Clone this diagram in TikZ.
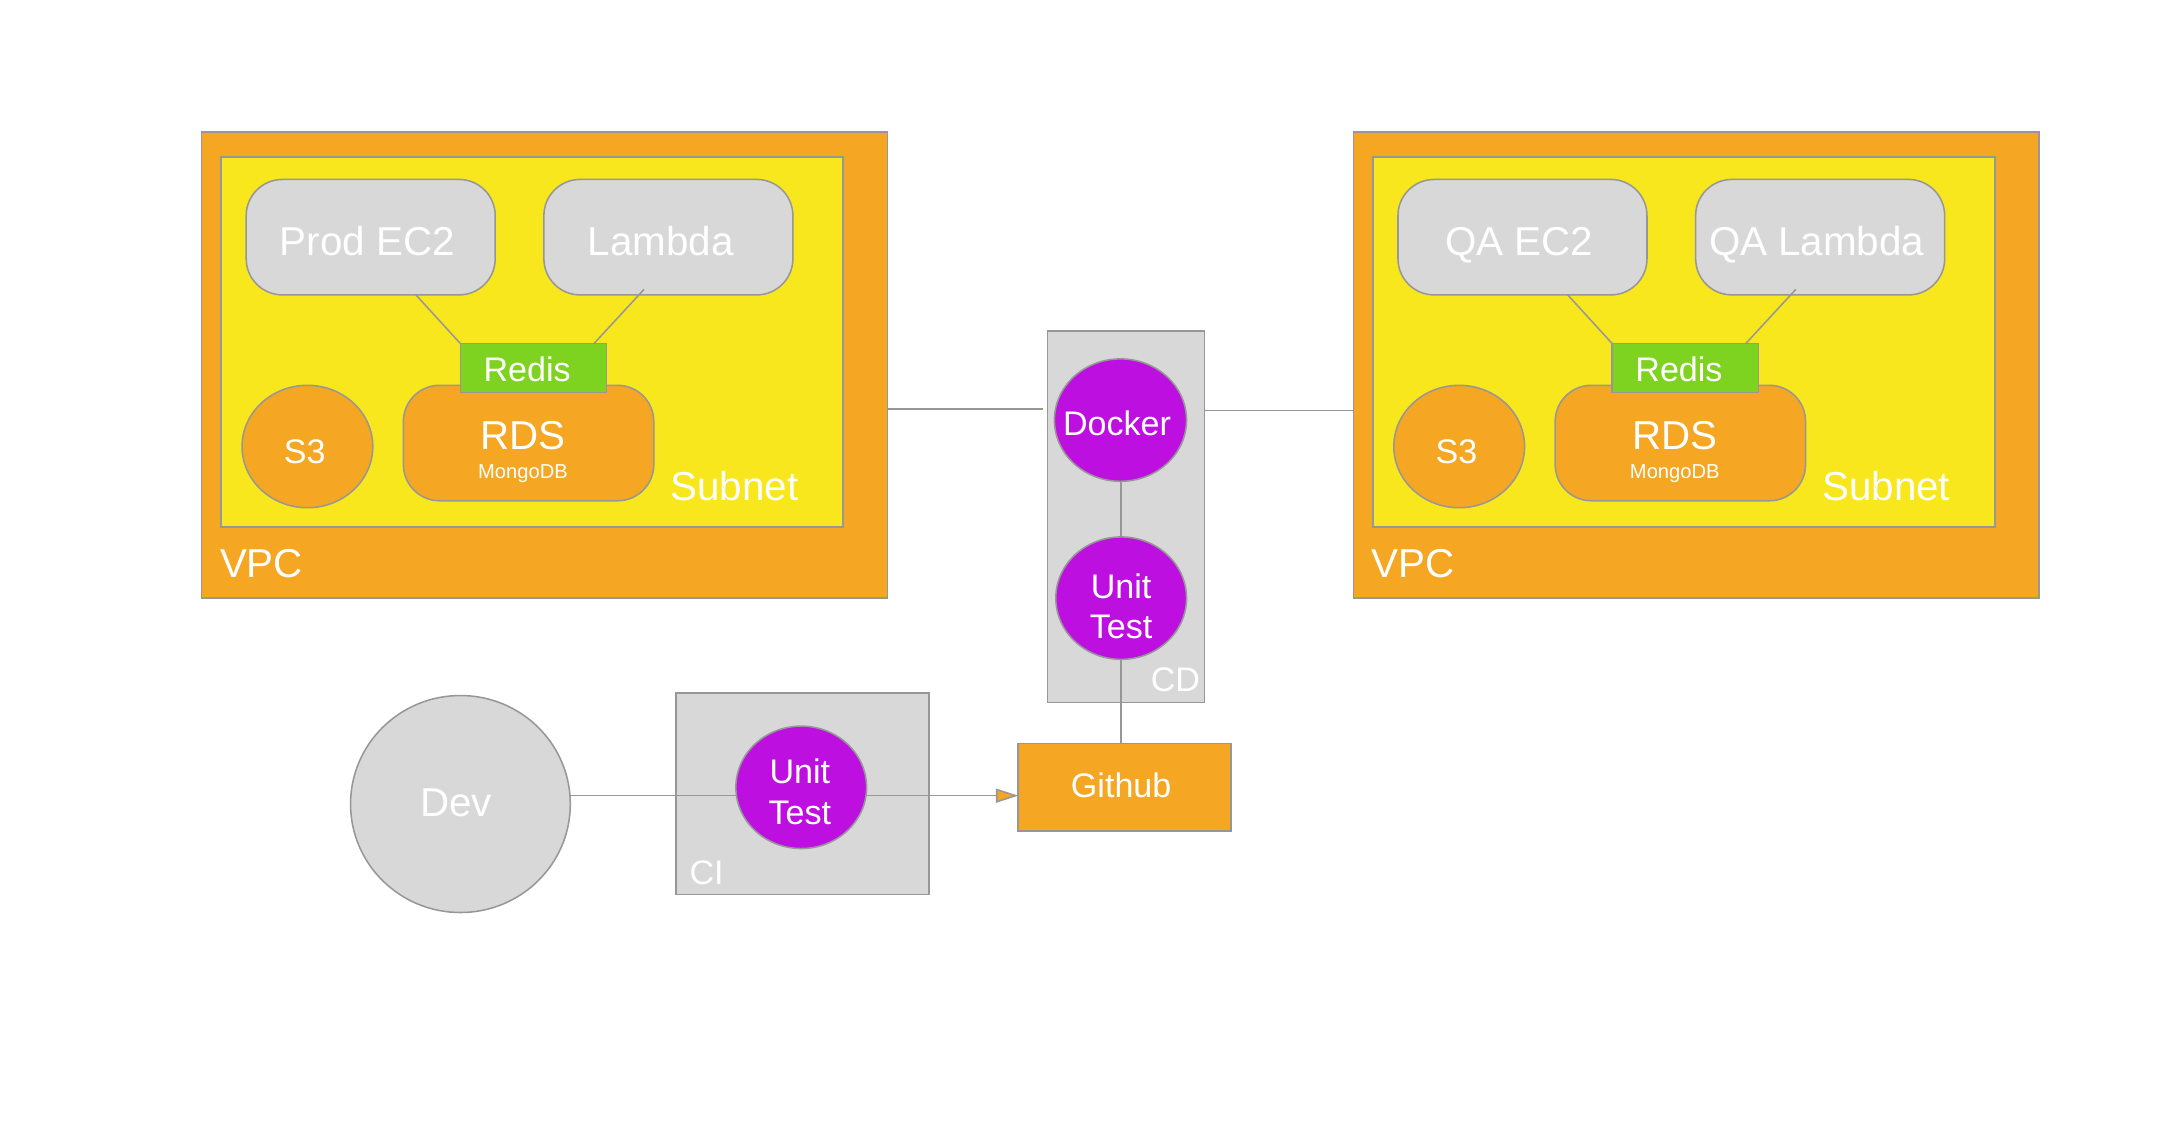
\documentclass[tikz,border=0pt]{standalone}
\usepackage{fontspec}
\setmainfont{Liberation Sans}
\usetikzlibrary{arrows.meta,shapes.geometric,calc}
\definecolor{orangeC}{HTML}{F5A623}
\definecolor{yellowC}{HTML}{F8E71C}
\definecolor{greenC}{HTML}{7ED321}
\definecolor{grayC}{HTML}{D8D8D8}
\definecolor{borderC}{HTML}{979797}
\definecolor{purpleC}{HTML}{BD10E0}
\begin{document}
\begin{tikzpicture}[x=1pt,y=-1pt,
  shp/.style={draw=borderC,line width=1.1pt,inner sep=0pt,outer sep=0pt,anchor=center},
  sq/.style={shp,rectangle},
  rnd/.style={shp,rectangle,rounded corners=26pt},
  ell/.style={shp,ellipse},
  txt/.style={text=white,inner sep=0pt,anchor=base},
  conn/.style={draw=borderC,line width=1.1pt},
  fA/.style={font=\fontsize{29}{34}\selectfont},
  fB/.style={font=\fontsize{24.5}{29}\selectfont},
  fC/.style={font=\fontsize{14.5}{17}\selectfont},
]
\useasboundingbox (0,0) rectangle (1567.2,816.7);

% ---------- Left VPC ----------
\node[sq,fill=orangeC,minimum width=493pt,minimum height=335pt] (vpcL) at (391.5,262.5) {};
\node[sq,fill=yellowC,minimum width=447pt,minimum height=266pt] (subL) at (382.5,246) {};
\node[rnd,fill=grayC,minimum width=179pt,minimum height=83pt] (ec2L) at (266.5,170.5) {};
\node[rnd,fill=grayC,minimum width=179pt,minimum height=83pt] (lamL) at (480.5,170.5) {};
\node[rnd,fill=orangeC,minimum width=180pt,minimum height=83pt] (rdsL) at (380,318.5) {};
\node[sq,fill=greenC,minimum width=105pt,minimum height=35pt] (redL) at (383.5,264.5) {};
\node[ell,fill=orangeC,minimum width=94pt,minimum height=88pt] (s3L) at (221,321) {};
\draw[conn] ($(ec2L.south)+(32.5,0)$) -- (redL.north west);
\draw[conn] ($(lamL.south)+(-17.5,-4)$) -- ($(redL.north east)+(-9,0)$);
\node[txt,fA] (ec2Lt) at (264,184) {Prod EC2};
\node[txt,fA] (lamLt) at (475,184) {Lambda};
\node[txt,fB] (redLt) at (379,274) {Redis};
\node[txt,fA] (rdsLt) at (376,323) {RDS};
\node[txt,fC] (monLt) at (376,344) {MongoDB};
\node[txt,fB] (s3Lt) at (219,333) {S3};
\node[txt,fA] (subLt) at (528,360) {Subnet};
\node[txt,fA] (vpcLt) at (188,415) {VPC};

% ---------- Right VPC ----------
\node[sq,fill=orangeC,minimum width=493pt,minimum height=335pt] (vpcR) at (1219.5,262.5) {};
\node[sq,fill=yellowC,minimum width=447pt,minimum height=266pt] (subR) at (1210.5,246) {};
\node[rnd,fill=grayC,minimum width=179pt,minimum height=83pt] (ec2R) at (1094.5,170.5) {};
\node[rnd,fill=grayC,minimum width=179pt,minimum height=83pt] (lamR) at (1308.5,170.5) {};
\node[rnd,fill=orangeC,minimum width=180pt,minimum height=83pt] (rdsR) at (1208,318.5) {};
\node[sq,fill=greenC,minimum width=105pt,minimum height=35pt] (redR) at (1211.5,264.5) {};
\node[ell,fill=orangeC,minimum width=94pt,minimum height=88pt] (s3R) at (1049,321) {};
\draw[conn] ($(ec2R.south)+(32.5,0)$) -- (redR.north west);
\draw[conn] ($(lamR.south)+(-17.5,-4)$) -- ($(redR.north east)+(-9,0)$);
\node[txt,fA] (ec2Rt) at (1092,184) {QA EC2};
\node[txt,fA] (lamRt) at (1306,184) {QA Lambda};
\node[txt,fB] (redRt) at (1207,274) {Redis};
\node[txt,fA] (rdsRt) at (1204,323) {RDS};
\node[txt,fC] (monRt) at (1204,344) {MongoDB};
\node[txt,fB] (s3Rt) at (1047,333) {S3};
\node[txt,fA] (subRt) at (1356,360) {Subnet};
\node[txt,fA] (vpcRt) at (1016,415) {VPC};

% ---------- CD ----------
\node[sq,fill=grayC,minimum width=113pt,minimum height=267pt] (cd) at (809.5,371.5) {};
\node[ell,fill=purpleC,minimum width=95pt,minimum height=88pt] (docker) at (805.5,302) {};
\node[ell,fill=purpleC,minimum width=94pt,minimum height=88pt] (utcd) at (806,430) {};
\node[txt,fB] (dockert) at (803,313) {Docker};
\node[txt,fB] (utcdt1) at (806,430) {Unit};
\node[txt,fB] (utcdt2) at (806,459) {Test};
\node[txt,fB] (cdt) at (845,497) {CD};

% ---------- Github ----------
\node[sq,fill=orangeC,minimum width=153pt,minimum height=63pt] (gh) at (808.5,566) {};
\node[txt,fB] (ght) at (806,573) {Github};

% ---------- Dev / CI ----------
\node[ell,fill=grayC,minimum width=158pt,minimum height=156pt] (dev) at (331,578) {};
\node[txt,fA] (devt) at (328,587) {Dev};
\node[sq,fill=grayC,minimum width=182pt,minimum height=145pt] (ci) at (577,570.5) {};
\node[ell,fill=purpleC,minimum width=94pt,minimum height=88pt] (utci) at (576,566) {};
\node[txt,fB] (utcit1) at (575,563) {Unit};
\node[txt,fB] (utcit2) at (575,593) {Test};
\node[txt,fB] (cit) at (508,636) {CI};

% ---------- connectors ----------
\coordinate (j1) at (750,294);
\draw[conn] (vpcL.east |- j1) -- (j1);
\coordinate (j2) at (900,295);
\draw[conn] (cd.east |- j2) -- (vpcR.west |- j2);
\draw[conn] (utcd.north |- docker.south) -- (utcd.north);
\draw[conn] (utcd.south) -- (gh.north -| utcd.south);
\coordinate (j3) at (450,572);
\draw[conn] (dev.east |- j3) -- ($(utci.west)+(0,6)$);
\draw[conn,-{Triangle[length=16pt,width=10pt,fill=orangeC]}] ($(utci.east)+(0,6)$) -- (gh.west |- j3);
\end{tikzpicture}
\end{document}
